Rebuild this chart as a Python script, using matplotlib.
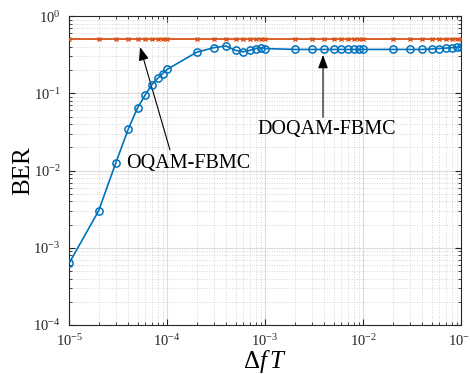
import matplotlib
matplotlib.use("Agg")
import matplotlib.pyplot as plt
import numpy as np
from matplotlib.ticker import LogLocator, NullFormatter

plt.rcParams["font.family"] = ["Liberation Serif", "DejaVu Serif"]
plt.rcParams["mathtext.fontset"] = "custom"
plt.rcParams["mathtext.rm"] = "Liberation Serif"
plt.rcParams["mathtext.it"] = "Liberation Serif:italic"

# ---------------------------------------------------------------------------
# Data
# ---------------------------------------------------------------------------
mantissa = [1, 2, 3, 4, 5, 6, 7, 8, 9]
df_T = [m * 10.0 ** e for e in (-5, -4, -3, -2) for m in mantissa] + [1e-1]

ber_oqam = [
    6.3e-4, 3.0e-3, 1.26e-2, 3.4e-2, 6.5e-2, 9.6e-2, 0.13, 0.156, 0.18,
    0.204, 0.34, 0.39, 0.41, 0.36, 0.345, 0.36, 0.38, 0.39,
    0.38, 0.37, 0.37, 0.37, 0.37, 0.37, 0.37, 0.37, 0.37,
    0.37, 0.37, 0.37, 0.37, 0.375, 0.38, 0.385, 0.39, 0.395,
    0.40,
]
ber_doqam = [0.5] * len(df_T)

blue = "#0072BD"
red = "#D95319"

fig = plt.figure(figsize=(4.7, 3.74), dpi=100)
ax = fig.add_axes([0.147, 0.131, 0.834, 0.826])

ax.loglog(df_T, ber_doqam, color=red, marker="x", markersize=3.2,
          linewidth=1.3, markeredgewidth=1.0, zorder=3)
ax.loglog(df_T, ber_oqam, color=blue, marker="o", markersize=5.2,
          markerfacecolor="none", linewidth=1.2, markeredgewidth=1.1, zorder=4)

ax.set_xlim(1e-5, 1e-1)
ax.set_ylim(1e-4, 1e0)
ax.xaxis.set_major_locator(LogLocator(base=10, numticks=10))
ax.yaxis.set_major_locator(LogLocator(base=10, numticks=10))
ax.xaxis.set_minor_locator(LogLocator(base=10, subs=np.arange(2, 10), numticks=20))
ax.yaxis.set_minor_locator(LogLocator(base=10, subs=np.arange(2, 10), numticks=20))
ax.xaxis.set_minor_formatter(NullFormatter())
ax.yaxis.set_minor_formatter(NullFormatter())

ax.grid(True, which="major", color="#dcdcdc", linewidth=0.8, linestyle="-")
ax.grid(True, which="minor", color="#c8c8c8", linewidth=0.6, linestyle=(0, (1, 2)))
ax.set_axisbelow(True)

ax.tick_params(which="both", direction="in", top=True, right=True,
               colors="#262626", labelsize=10.5, pad=6)
ax.tick_params(which="major", length=4)
ax.tick_params(which="minor", length=2)
for sp in ax.spines.values():
    sp.set_color("#262626")
    sp.set_linewidth(0.8)

ax.set_xlabel(r"$\Delta f\,T$", fontsize=18, labelpad=-1)
ax.set_ylabel("BER", fontsize=18, labelpad=-1)

arrow = dict(arrowstyle="-|>,head_length=0.8,head_width=0.3",
             color="black", linewidth=0.8, shrinkA=0, shrinkB=0)
ax.annotate("", xy=(5.3e-5, 0.397), xytext=(1.07e-4, 0.0185), arrowprops=arrow)
ax.text(1.64e-4, 0.0125, "OQAM-FBMC", fontsize=14.5, ha="center", va="center")
ax.annotate("", xy=(3.9e-3, 0.313), xytext=(3.9e-3, 0.049), arrowprops=arrow)
ax.text(4.3e-3, 0.0335, "DOQAM-FBMC", fontsize=14.5, ha="center", va="center")

fig.savefig("out.png", dpi=100)
